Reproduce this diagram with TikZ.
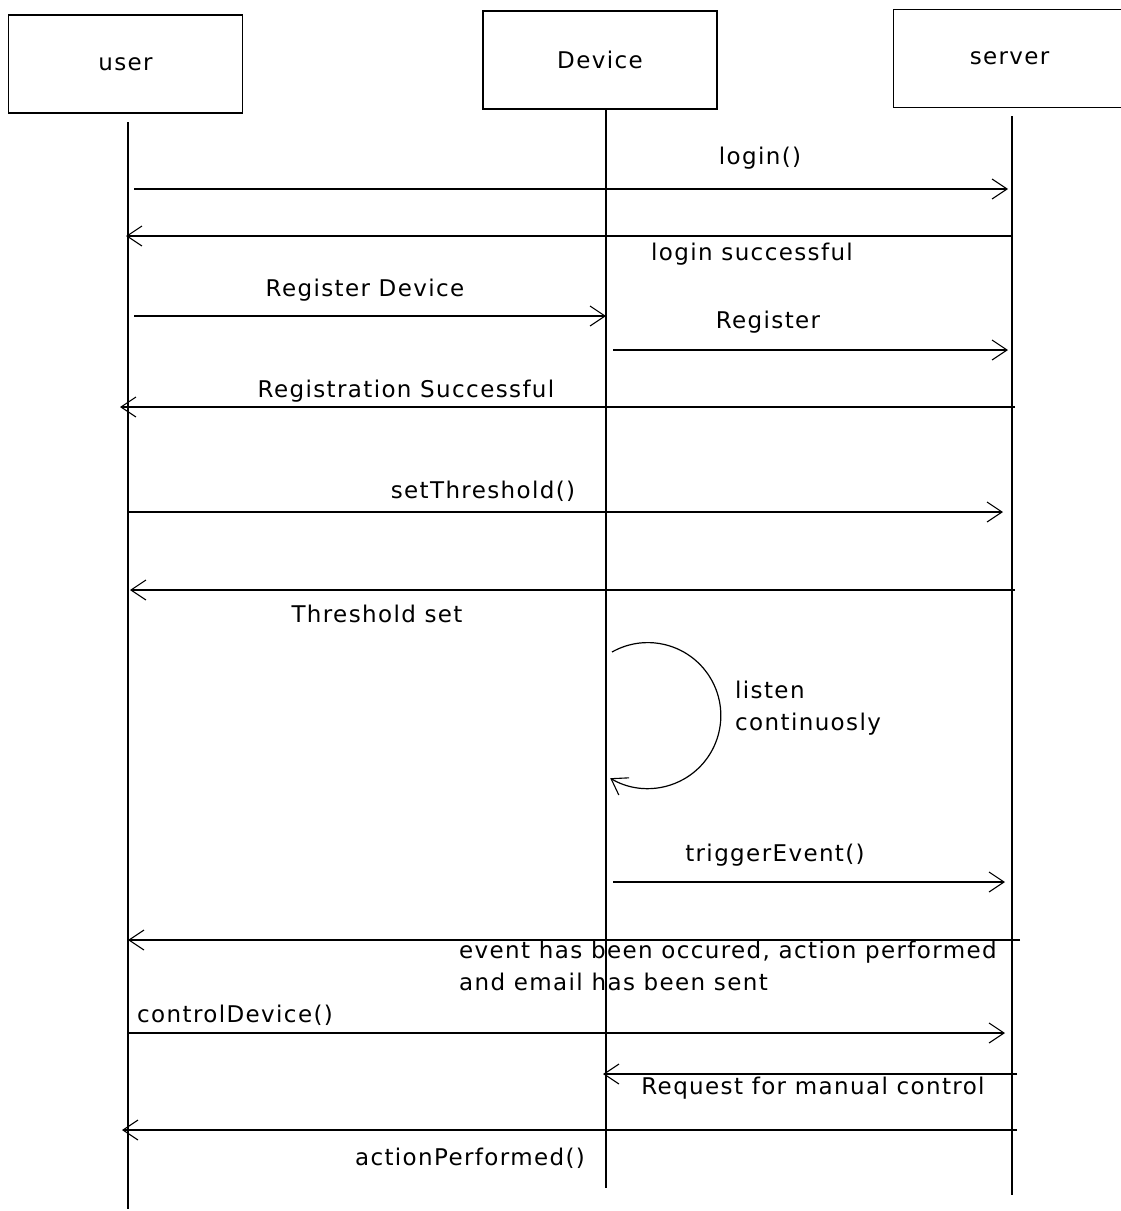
\documentclass[tikz,border=0pt]{standalone}
\usepackage{fontspec}
\setmainfont{DejaVu Sans}[LetterSpace=6]
\usetikzlibrary{arrows.meta}
\tikzset{
  actor/.style={draw, line width=1.2pt, minimum width=234pt, minimum height=98pt, font=\fontsize{23}{27}\selectfont},
  life/.style={line width=1.2pt},
  msg/.style={line width=1.2pt, -{Straight Barb[length=15pt,width=20pt,line width=1.1pt]}},
  lbl/.style={font=\fontsize{23}{32}\selectfont, inner sep=0pt},
}
\begin{document}
\begin{tikzpicture}[x=1pt, y=-1pt]
\useasboundingbox (0,0) rectangle (1120,1211);
% participants
\node[actor] (user) at (125.5,64) {user};
\node[actor] (dev) at (600,60) {Device};
\node[actor, minimum width=236pt, anchor=west] (srv) at (893,58.5) {\hspace*{-4pt}server};
% lifelines
\coordinate (uTop) at (128,122);  \coordinate (uEnd) at (128,1209);
\coordinate (dEnd) at (606,1188);
\coordinate (sTop) at (1012,116); \coordinate (sEnd) at (1012,1195);
\draw[life] (uTop) -- (uEnd);
\draw[life] (606,109) coordinate (dTop) -- (dEnd);
\draw[life] (sTop) -- (sEnd);
% message end points
\coordinate (m1a) at (134,189);  \coordinate (m1b) at (1008,189);
\coordinate (m2a) at (1012,236); \coordinate (m2b) at (126,236);
\coordinate (m3a) at (134,316);  \coordinate (m3b) at (606,316);
\coordinate (m4a) at (613,350);  \coordinate (m4b) at (1008,350);
\coordinate (m5a) at (1015,407); \coordinate (m5b) at (120,407);
\coordinate (m6a) at (128,512);  \coordinate (m6b) at (1003,512);
\coordinate (m7a) at (1015,590); \coordinate (m7b) at (130,590);
\coordinate (m9a) at (613,882);  \coordinate (m9b) at (1005,882);
\coordinate (m10a) at (1020,940); \coordinate (m10b) at (128,940);
\coordinate (m11a) at (128,1033); \coordinate (m11b) at (1005,1033);
\coordinate (m12a) at (1017,1074); \coordinate (m12b) at (603,1074);
\coordinate (m13a) at (1017,1130); \coordinate (m13b) at (122,1130);
% messages
\draw[msg] (m1a) -- (m1b);   \node[lbl] (l1) at (760,158) {login()};
\draw[msg] (m2a) -- (m2b);   \node[lbl] (l2) at (752,254) {login successful};
\draw[msg] (m3a) -- (m3b);   \node[lbl] (l3) at (365,290) {Register Device};
\draw[msg] (m4a) -- (m4b);   \node[lbl] (l4) at (768,322) {Register};
\draw[msg] (m5a) -- (m5b);   \node[lbl] (l5) at (406,391) {Registration Successful};
\draw[msg] (m6a) -- (m6b);   \node[lbl] (l6) at (483,491) {setThreshold()};
\draw[msg] (m7a) -- (m7b);   \node[lbl] (l7) at (377,614) {Threshold set};
% self call on the device
\coordinate (loopS) at (612,652);
\draw[msg] (loopS) arc[start angle=240.6, end angle=481, radius=73];
\node[lbl, align=left, anchor=west] (l8) at (735,708) {listen\\continuosly};
\draw[msg] (m9a) -- (m9b);   \node[lbl] (l9) at (775,855) {triggerEvent()};
\draw[msg] (m10a) -- (m10b);
\node[lbl, align=left, anchor=north west] (l10) at (459,941) {event has been occured, action performed\\and email has been sent};
\draw[msg] (m11a) -- (m11b); \node[lbl, anchor=west] (l11) at (137,1015) {controlDevice()};
\draw[msg] (m12a) -- (m12b); \node[lbl] (l12) at (813,1088) {Request for manual control};
\draw[msg] (m13a) -- (m13b); \node[lbl] (l13) at (470,1158) {actionPerformed()};
\end{tikzpicture}
\end{document}
